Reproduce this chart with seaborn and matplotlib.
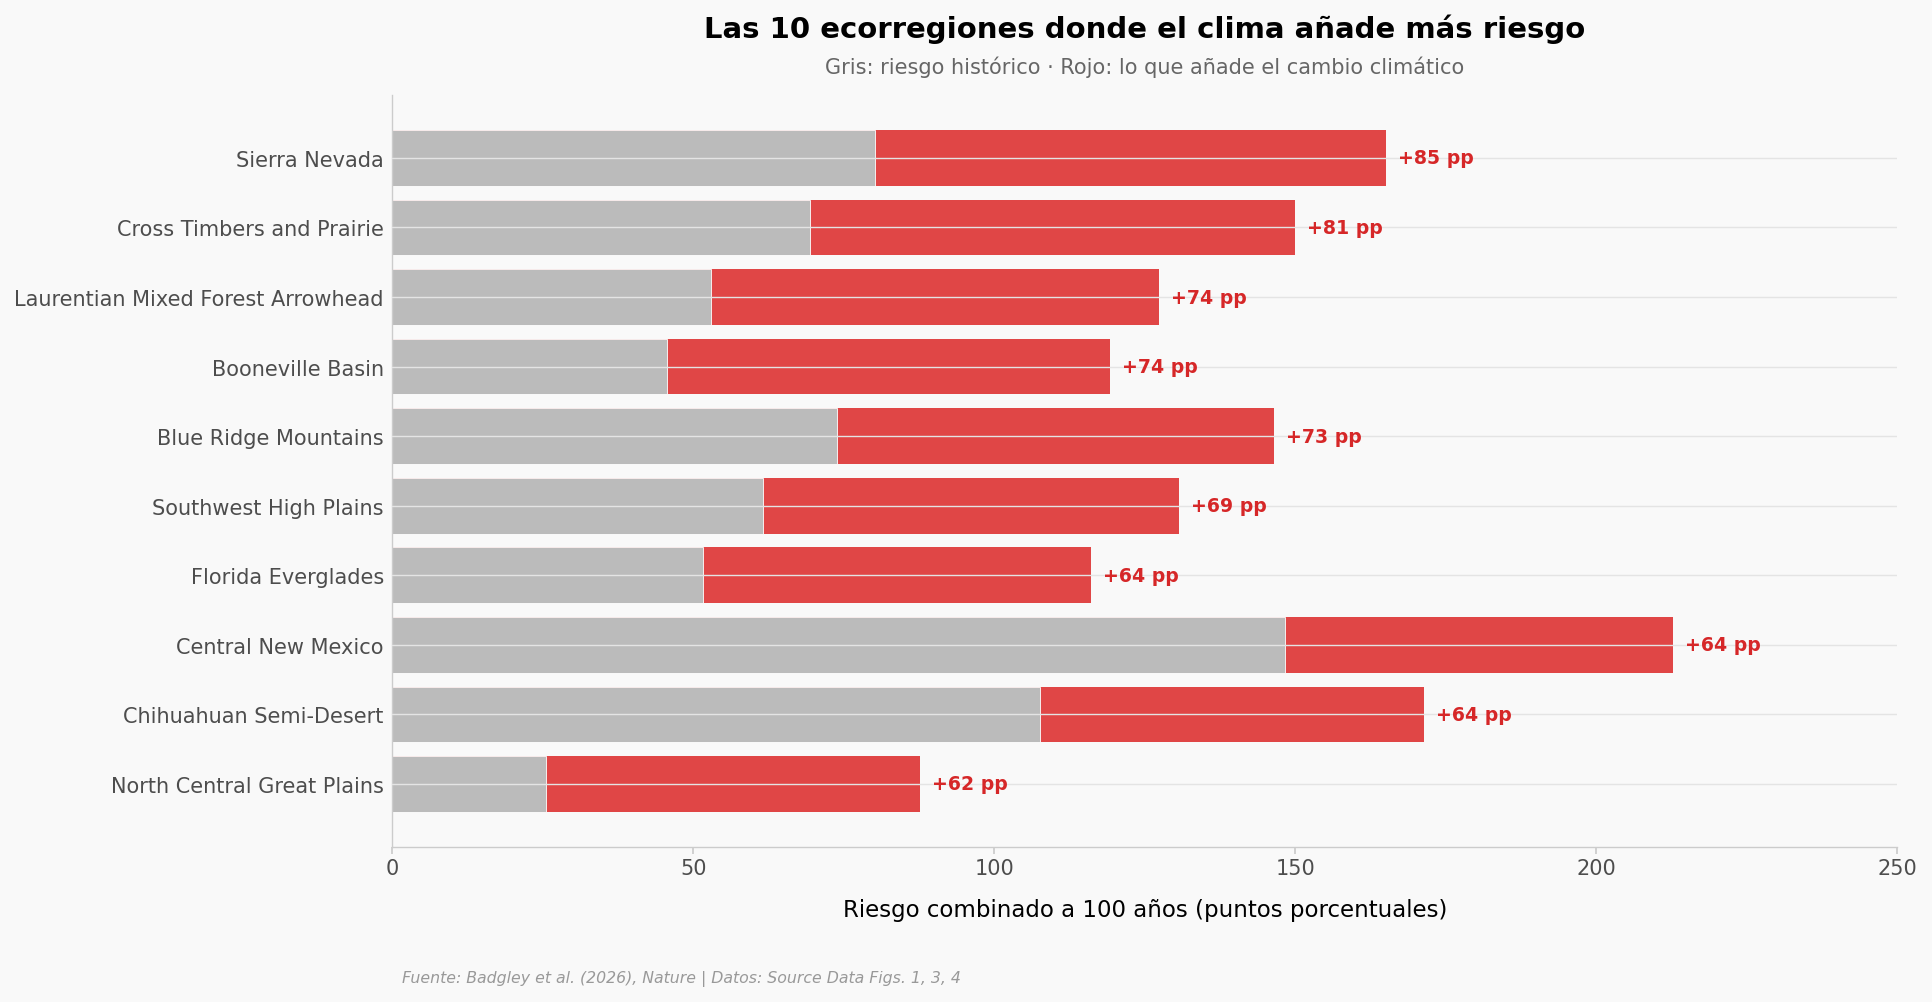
import pandas as pd
import matplotlib
matplotlib.use("Agg")
import matplotlib.pyplot as plt
import seaborn as sns

ecoregions = [
    "Sierra Nevada",
    "Cross Timbers and Prairie",
    "Laurentian Mixed Forest Arrowhead",
    "Booneville Basin",
    "Blue Ridge Mountains",
    "Southwest High Plains",
    "Florida Everglades",
    "Central New Mexico",
    "Chihuahuan Semi-Desert",
    "North Central Great Plains",
]
historical_risk = [80.2, 69.4, 53.0, 45.6, 73.9, 61.6, 51.6, 148.3, 107.6, 25.6]
climate_added = [84.9, 80.6, 74.3, 73.7, 72.6, 69.1, 64.4, 64.5, 63.8, 62.0]
added_labels = ["+85 pp", "+81 pp", "+74 pp", "+74 pp", "+73 pp",
                "+69 pp", "+64 pp", "+64 pp", "+64 pp", "+62 pp"]

BG = "#f9f9f9"
GREY = "#bbbbbb"
RED = "#e04646"
LABEL_RED = "#d62728"


def build_frame():
    df = pd.DataFrame(
        {
            "ecoregion": ecoregions,
            "historical": historical_risk,
            "added": climate_added,
        }
    )
    df["total"] = df["historical"] + df["added"]
    return df


def plot_climate_risk(df):
    sns.set_theme(style="white")
    plt.rcParams["font.family"] = ["DejaVu Sans"]
    fig, ax = plt.subplots(figsize=(19.32, 10.03), dpi=100)
    fig.patch.set_facecolor(BG)
    ax.set_facecolor(BG)

    # total first (red), historical on top (grey) -> stacked look
    sns.barplot(data=df, y="ecoregion", x="total", color=RED, orient="h",
                width=0.8, saturation=1, edgecolor="none", ax=ax)
    sns.barplot(data=df, y="ecoregion", x="historical", color=GREY, orient="h",
                width=0.8, saturation=1, edgecolor="white", linewidth=0.6, ax=ax)

    for i, (tot, lab) in enumerate(zip(df["total"], added_labels)):
        ax.text(tot + 2.0, i, lab, va="center", ha="left", fontsize=13.6,
                fontweight="bold", color=LABEL_RED)

    ax.set_xlim(0, 250)
    ax.set_ylim(9.9, -0.9)
    ax.set_xticks([0, 50, 100, 150, 200, 250])
    ax.grid(axis="y", color="#e4e4e4", linewidth=1.0)
    ax.grid(axis="x", visible=False)
    ax.set_axisbelow(False)

    ax.set_ylabel("")
    ax.set_xlabel("Riesgo combinado a 100 años (puntos porcentuales)",
                  fontsize=16.5, color="black", labelpad=14)
    ax.tick_params(axis="y", length=0, labelsize=15, labelcolor="#4d4d4d", pad=6)
    ax.tick_params(axis="x", length=5, color="#cccccc", labelsize=15,
                   labelcolor="#4d4d4d", bottom=True)

    for side in ["top", "right"]:
        ax.spines[side].set_visible(False)
    for side in ["left", "bottom"]:
        ax.spines[side].set_color("#cccccc")
        ax.spines[side].set_linewidth(1.0)

    fig.subplots_adjust(left=0.203, right=0.982, top=0.904, bottom=0.155)

    cx = (0.203 + 0.982) / 2
    fig.text(cx, 0.971, "Las 10 ecorregiones donde el clima añade más riesgo",
             ha="center", va="center", fontsize=21, fontweight="bold", color="black")
    fig.text(cx, 0.933, "Gris: riesgo histórico · Rojo: lo que añade el cambio climático",
             ha="center", va="center", fontsize=15, color="#666666")
    fig.text(0.208, 0.024, "Fuente: Badgley et al. (2026), Nature | Datos: Source Data Figs. 1, 3, 4",
             ha="left", va="center", fontsize=11.3, style="italic", color="#999999")

    fig.savefig("out.png", dpi=100, facecolor=BG)


if __name__ == "__main__":
    df = build_frame()
    plot_climate_risk(df)
